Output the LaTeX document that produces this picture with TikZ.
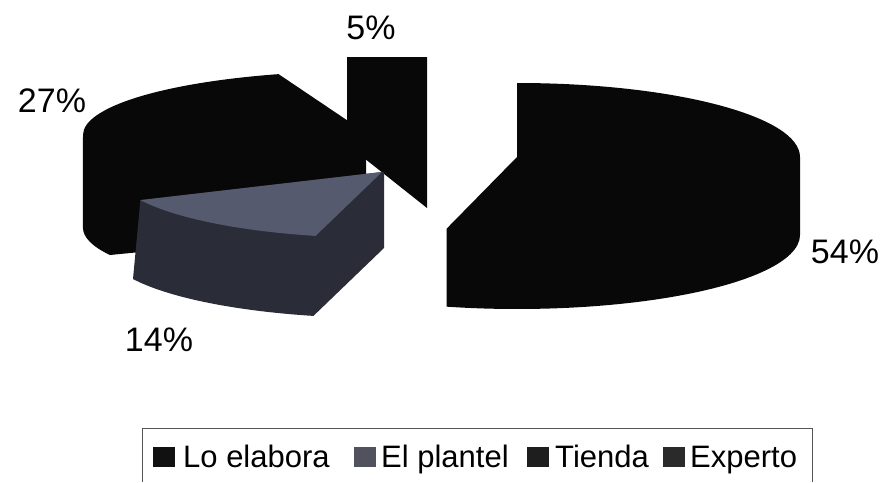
\documentclass[tikz,border=0pt]{standalone}
\usepackage{fontspec}
\setmainfont{Liberation Sans}
\definecolor{pieblack}{HTML}{080808}
\definecolor{grayside}{HTML}{2A2C38}
\definecolor{graytop}{HTML}{565A6E}
\definecolor{legline}{HTML}{555555}
\definecolor{legA}{HTML}{111111}
\definecolor{legB}{HTML}{50535E}
\definecolor{legC}{HTML}{1E1E1E}
\definecolor{legD}{HTML}{2A2A2A}
\tikzset{
  pct/.style={inner sep=0pt, font=\fontsize{34}{40}\selectfont},
  legtext/.style={inner sep=0pt, anchor=base west, font=\fontsize{31}{36}\selectfont},
  legsq/.style={inner sep=0pt, minimum width=22pt, minimum height=20pt, anchor=north west},
}
\begin{document}
\begin{tikzpicture}[x=1pt,y=-1pt]
\useasboundingbox (0,0) rectangle (889,482);
\fill[white] (0,0) rectangle (889,482);

% Lo elabora 54%
\fill[pieblack] (517,83) arc[start angle=-90, end angle=0, x radius=283, y radius=74]
  -- (800,235) arc[start angle=0, end angle=104.4, x radius=283, y radius=74]
  -- ++(0,-78) -- (517,157) -- cycle;

% Tienda 27%
\fill[pieblack] (83,135) arc[start angle=180, end angle=252, x radius=283, y radius=64]
  -- (366,133) -- (366,230) -- (109.9,255)
  arc[start angle=154.8, end angle=180, x radius=283, y radius=64] -- cycle;

% Experto 5%
\fill[pieblack] (347,57) -- (427,57) -- (427,208) -- (364,158) -- (347,145) -- cycle;

% El plantel 14%
\fill[grayside] (382,172) -- (140.4,200.1) -- (133,279)
  arc[start angle=154.8, end angle=104.4, x radius=275, y radius=68]
  -- (384,248) -- (384,172) -- cycle;
\fill[graytop] (382,172) -- (140.4,200.1)
  arc[start angle=154.8, end angle=104.4, x radius=267, y radius=66] -- cycle;

% percentage labels
\node[pct] (p5)  at (371,28)  {5\%};
\node[pct] (p27) at (52,101)  {27\%};
\node[pct] (p14) at (159,340) {14\%};
\node[pct] (p54) at (845,252) {54\%};

% legend
\draw[legline, line width=1pt] (142,482) -- (142,428) -- (812,428) -- (812,482);
\node[legsq, fill=legA] (sqA) at (153,447) {};
\node[legtext] (tA) at (183,467) {Lo elabora};
\node[legsq, fill=legB] (sqB) at (354,447) {};
\node[legtext] (tB) at (381,467) {El plantel};
\node[legsq, fill=legC] (sqC) at (527,447) {};
\node[legtext] (tC) at (555,467) {Tienda};
\node[legsq, fill=legD] (sqD) at (663,447) {};
\node[legtext] (tD) at (690,467) {Experto};
\end{tikzpicture}
\end{document}
